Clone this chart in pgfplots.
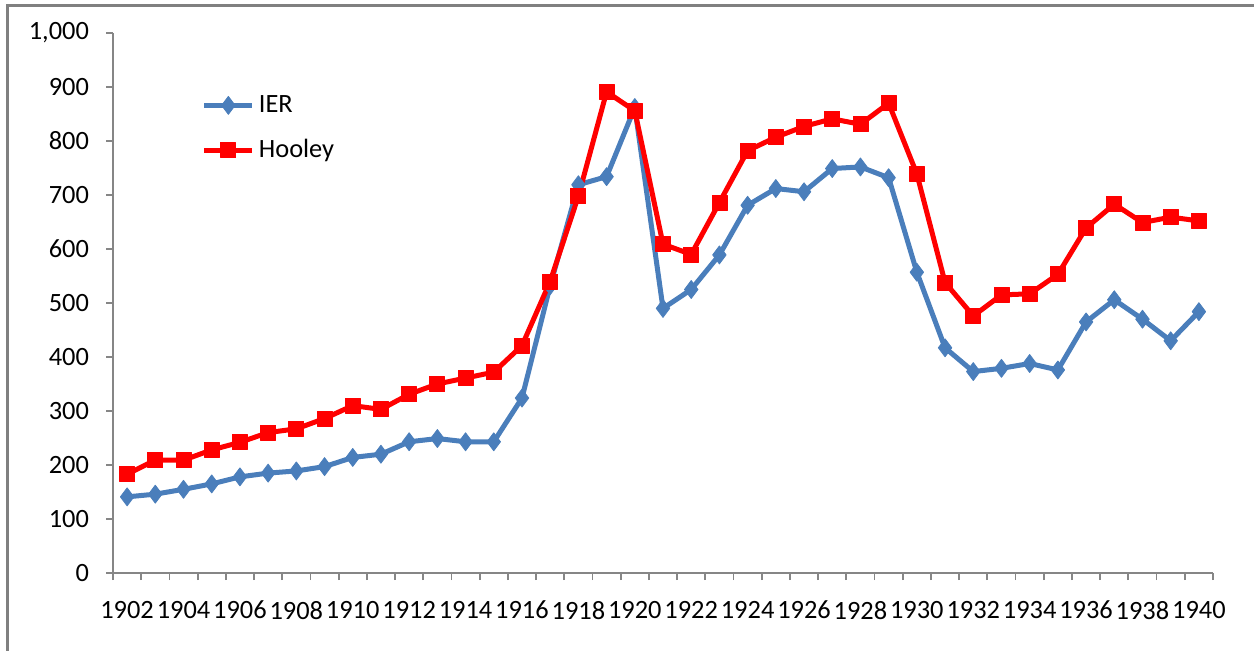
\documentclass[border=0pt]{standalone}
\usepackage{fontspec}
\setmainfont{Carlito}
\usepackage{pgfplots}
\pgfplotsset{compat=1.18}
\definecolor{ierblue}{HTML}{4A7EBB}
\definecolor{axgray}{HTML}{868686}
\definecolor{framegray}{HTML}{808080}
\begin{document}
\begin{tikzpicture}
\begin{axis}[
  at={(56.5pt,38.5pt)}, anchor=south west,
  scale only axis, width=550pt, height=270pt,
  xmin=1901.5, xmax=1940.5, ymin=0, ymax=1000,
  clip=false,
  axis lines=left,
  axis line style={-, draw=axgray, line width=0.9pt},
  tick align=outside, major tick length=3.5pt,
  tick style={draw=axgray, line width=0.9pt},
  xtick={1901.5,1902.5,...,1940.5}, xticklabels={},
  extra x ticks={1902,1904,...,1940},
  extra x tick labels={1902,1904,1906,1908,1910,1912,1914,1916,1918,1920,1922,1924,1926,1928,1930,1932,1934,1936,1938,1940},
  extra x tick style={major tick length=0pt, tick style={draw=none}},
  ytick={0,100,...,1000},
  tick label style={font=\fontsize{13.2}{15}\selectfont, /pgf/number format/assume math mode=true},
  x tick label style={yshift=-10.5pt},
  y tick label style={xshift=-5pt},
  legend style={draw=none, fill=none, at={(0.075,0.90)}, anchor=north west,
    font=\fontsize{13.2}{15}\selectfont, row sep=8pt},
  legend cell align=left,
  legend image code/.code={\draw[mark repeat=2,mark phase=2] plot coordinates {(0pt,0pt) (12pt,0pt) (24pt,0pt)};},
]
\addplot[ierblue, line width=2.5pt, line join=round, mark=diamond*, mark size=4.5pt,
  mark options={solid, fill=ierblue, line width=0.4pt}] coordinates {
(1902,141) (1903,146) (1904,155) (1905,165) (1906,178) (1907,185) (1908,189)
(1909,197) (1910,214) (1911,220) (1912,243) (1913,249) (1914,243) (1915,243)
(1916,324) (1917,532) (1918,719) (1919,734) (1920,862) (1921,490) (1922,525)
(1923,589) (1924,681) (1925,712) (1926,706) (1927,749) (1928,752) (1929,732)
(1930,557) (1931,417) (1932,373) (1933,379) (1934,388) (1935,376) (1936,465)
(1937,506) (1938,470) (1939,430) (1940,484)
};
\addlegendentry{IER}
\addplot[red, line width=2.5pt, line join=round, mark=square*, mark size=3.75pt,
  mark options={solid, fill=red, line width=0.4pt}] coordinates {
(1902,183) (1903,209) (1904,209) (1905,228) (1906,242) (1907,260) (1908,267)
(1909,286) (1910,310) (1911,303) (1912,331) (1913,350) (1914,361) (1915,372)
(1916,421) (1917,540) (1918,698) (1919,891) (1920,856) (1921,609) (1922,590)
(1923,686) (1924,782) (1925,807) (1926,827) (1927,841) (1928,831) (1929,870)
(1930,739) (1931,538) (1932,476) (1933,515) (1934,517) (1935,553) (1936,639)
(1937,683) (1938,649) (1939,659) (1940,652)
};
\addlegendentry{Hooley}
\end{axis}
\fill[framegray] (2.75pt,-10pt) rectangle (4.25pt,323pt);
\fill[framegray] (2.75pt,321.5pt) rectangle (640pt,323pt);
\pgfresetboundingbox
\useasboundingbox (0pt,0pt) rectangle (627pt,325pt);
\end{tikzpicture}
\end{document}
